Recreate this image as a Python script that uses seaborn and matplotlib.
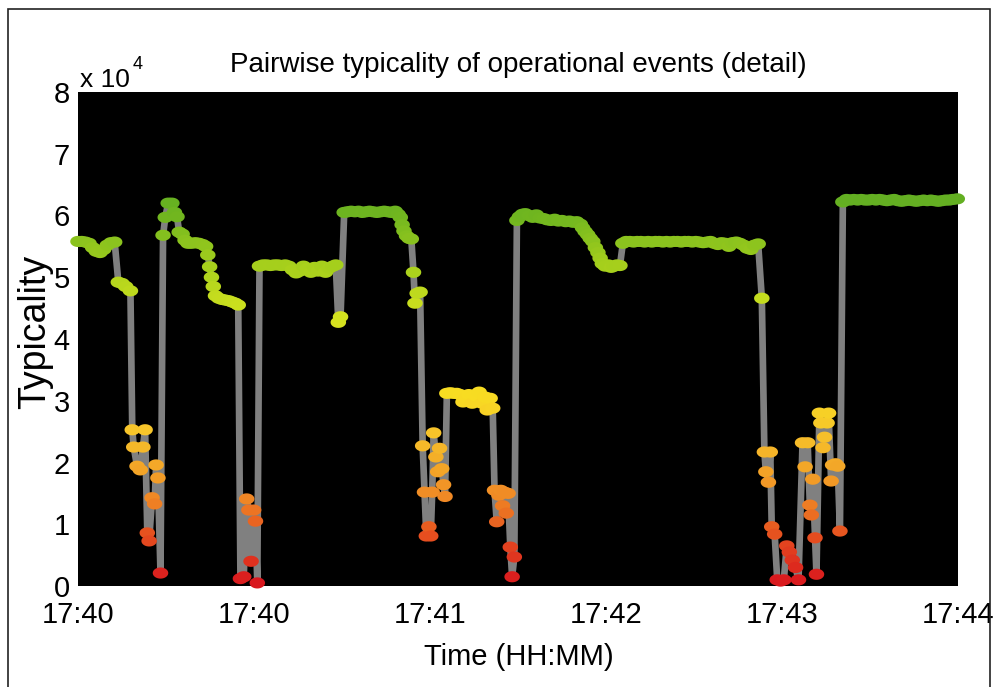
import numpy as np
import pandas as pd
import matplotlib
matplotlib.use("Agg")
import matplotlib.pyplot as plt
from matplotlib import font_manager
from matplotlib.colors import LinearSegmentedColormap
from matplotlib.markers import MarkerStyle
from matplotlib.patches import Rectangle
import seaborn as sns

# ---------------------------------------------------------------------------
# Typicality samples (units of 10^4), seconds after 17:40:00, by episode
# ---------------------------------------------------------------------------
# steady level, then first step down
t_a = [0, 1, 2, 3, 4, 5, 6, 7, 8, 9, 10, 11, 12, 13, 14.3]
v_a = [5.58, 5.58, 5.57, 5.55, 5.48, 5.42, 5.40, 5.45, 5.52, 5.56, 5.57,
       4.92, 4.90, 4.85, 4.78]

# first burst of atypical events
t_b = [14.8, 15.2, 16.1, 17.0, 17.7, 18.3, 18.9, 19.4, 20.2, 20.9, 21.3,
       21.8, 22.5]
v_b = [2.53, 2.25, 1.94, 1.88, 2.25, 2.53, 0.86, 0.73, 1.43, 1.33, 1.96,
       1.75, 0.21]

# recovery and slow decline
t_c = [23.2, 23.8, 24.6, 25.6, 26.3, 27.0, 27.6, 28.4, 29.2, 30.0, 31.0,
       32.0, 33.0, 34.0, 34.8, 35.4, 35.9, 36.4, 36.9, 37.5, 38.4, 39.3,
       40.2, 41.1, 42.0, 42.9, 43.7]
v_c = [5.68, 5.97, 6.20, 6.20, 6.05, 5.98, 5.73, 5.70, 5.60, 5.55, 5.55,
       5.56, 5.55, 5.53, 5.50, 5.36, 5.17, 5.00, 4.85, 4.70, 4.66, 4.64,
       4.63, 4.62, 4.60, 4.58, 4.55]

# second burst
t_d = [44.3, 45.2, 46.0, 46.6, 47.2, 47.9, 48.4, 48.9]
v_d = [0.12, 0.15, 1.41, 1.23, 0.40, 1.23, 1.05, 0.05]

# plateau near 5.2
t_e = [49.5, 50.5, 51.5, 52.5, 53.5, 54.5, 55.5, 56.5, 57.5, 58.5, 59.5,
       60.5, 61.5, 62.5, 63.5, 64.5, 65.5, 66.5, 67.5, 68.5, 69.5, 70.3,
       71.0, 71.6]
v_e = [5.18, 5.20, 5.20, 5.19, 5.20, 5.20, 5.19, 5.20, 5.18, 5.12, 5.07,
       5.10, 5.18, 5.14, 5.08, 5.16, 5.10, 5.18, 5.08, 5.15, 5.18, 5.20,
       4.27, 4.36]

# plateau near 6.1
t_f = [72.6, 73.5, 74.5, 75.5, 76.5, 77.5, 78.5, 79.5, 80.5, 81.5, 82.5,
       83.5, 84.5, 85.5, 86.5, 87.3, 87.9, 88.4, 88.9, 89.6, 90.3, 90.9,
       91.5, 91.9, 92.5, 93.3]
v_f = [6.05, 6.06, 6.07, 6.06, 6.07, 6.05, 6.06, 6.07, 6.06, 6.05, 6.06,
       6.07, 6.06, 6.05, 6.07, 6.02, 5.97, 5.85, 5.75, 5.67, 5.63, 5.62,
       5.08, 4.58, 4.74, 4.76]

# third burst
t_g = [94.0, 94.5, 95.0, 95.7, 96.2, 96.6, 97.0, 97.6, 98.1, 98.6, 99.2,
       99.7, 100.1]
v_g = [2.27, 1.52, 0.81, 0.96, 0.81, 1.52, 2.48, 2.09, 1.85, 2.23, 1.90,
       1.64, 1.45]

# short plateau near 3.1
t_h = [100.6, 101.5, 102.4, 103.3, 104.2, 105.0, 105.8, 106.6, 107.5,
       108.4, 109.4, 110.2, 111.0, 111.6, 112.4, 113.1]
v_h = [3.12, 3.13, 3.12, 3.12, 3.10, 2.98, 3.05, 3.10, 2.96, 3.08, 3.14,
       2.96, 3.06, 2.85, 3.04, 2.88]

# fourth burst
t_i = [113.6, 114.2, 114.8, 115.3, 115.8, 116.3, 116.8, 117.3, 117.9,
       118.4, 119.0]
v_i = [1.55, 1.04, 1.47, 1.55, 1.30, 1.52, 1.18, 1.50, 0.63, 0.15, 0.47]

# plateau near 5.95 easing down to 5.2
t_j = [119.7, 120.4, 121.2, 122.0, 123.0, 124.0, 125.0, 126.0, 127.0,
       128.0, 129.0, 130.0, 131.0, 132.0, 133.0, 134.0, 135.0, 136.0,
       137.0, 137.6, 138.3, 139.0, 139.7, 140.4, 141.1, 141.8, 142.4,
       143.0, 143.8, 144.6, 145.4, 146.2, 147.0, 147.8]
v_j = [5.92, 5.98, 6.02, 6.03, 6.00, 5.97, 6.01, 5.96, 5.95, 5.93, 5.92,
       5.94, 5.91, 5.92, 5.90, 5.91, 5.89, 5.90, 5.86, 5.80, 5.74, 5.69,
       5.63, 5.58, 5.48, 5.40, 5.31, 5.22, 5.18, 5.20, 5.16, 5.18, 5.20,
       5.19]

# long plateau near 5.57
t_k = [148.6, 149.5, 150.5, 151.5, 152.5, 153.5, 154.5, 155.5, 156.5,
       157.5, 158.5, 159.5, 160.5, 161.5, 162.5, 163.5, 164.5, 165.5,
       166.5, 167.5, 168.5, 169.5, 170.5, 171.5, 172.5, 173.5, 174.5,
       175.5, 176.5, 177.5, 178.5, 179.5, 180.5, 181.5, 182.5, 183.5,
       184.5, 185.5]
v_k = [5.55, 5.58, 5.58, 5.57, 5.58, 5.58, 5.57, 5.58, 5.57, 5.58, 5.58,
       5.57, 5.58, 5.57, 5.58, 5.58, 5.57, 5.58, 5.58, 5.57, 5.58, 5.57,
       5.56, 5.57, 5.58, 5.55, 5.53, 5.56, 5.55, 5.50, 5.56, 5.57, 5.55,
       5.52, 5.47, 5.45, 5.52, 5.54]

# fifth burst
t_l = [186.5, 187.2, 187.6, 188.3, 188.8, 189.2, 190.0, 190.7, 191.6,
       192.5, 193.3, 194.0, 194.8, 195.7, 196.5, 197.6, 198.3, 199.0,
       199.6, 200.0, 200.4, 201.0, 201.4, 202.2, 202.6, 203.2, 203.6,
       204.3, 204.7, 205.4, 205.8, 206.6, 207.2, 207.8]
v_l = [4.66, 2.17, 1.85, 1.68, 2.17, 0.96, 0.84, 0.10, 0.08, 0.10, 0.65,
       0.55, 0.42, 0.30, 0.10, 2.32, 1.93, 2.32, 1.31, 1.15, 1.73, 0.78,
       0.19, 2.80, 2.64, 2.24, 2.41, 2.64, 2.80, 1.70, 1.96, 1.98, 1.94,
       0.89]

# final plateau near 6.25
t_m = [208.6, 209.6, 210.6, 211.6, 212.6, 213.6, 214.6, 215.6, 216.6,
       217.6, 218.6, 219.6, 220.6, 221.6, 222.6, 223.6, 224.6, 225.6,
       226.6, 227.6, 228.6, 229.6, 230.6, 231.6, 232.6, 233.6, 234.6,
       235.6, 236.6, 237.6, 238.6, 239.8]
v_m = [6.22, 6.26, 6.25, 6.26, 6.25, 6.26, 6.25, 6.25, 6.26, 6.25, 6.26,
       6.25, 6.24, 6.25, 6.26, 6.24, 6.23, 6.24, 6.25, 6.24, 6.23, 6.24,
       6.25, 6.24, 6.25, 6.24, 6.23, 6.24, 6.25, 6.25, 6.26, 6.27]

time_labels = ["17:40", "17:40", "17:41", "17:42", "17:43", "17:44"]
title = "Pairwise typicality of operational events (detail)"

# ---------------------------------------------------------------------------
seconds = t_a + t_b + t_c + t_d + t_e + t_f + t_g + t_h + t_i + t_j + t_k + t_l + t_m
values = v_a + v_b + v_c + v_d + v_e + v_f + v_g + v_h + v_i + v_j + v_k + v_l + v_m
df = pd.DataFrame({"seconds": seconds, "typicality": values})

sns.set_theme(style="white")
names = {f.name for f in font_manager.fontManager.ttflist}
narrow = "Liberation Sans Narrow" in names
main_family = "Liberation Sans Narrow" if narrow else "Liberation Sans"
plt.rcParams["font.family"] = [main_family, "DejaVu Sans"]
fs = 24 if narrow else 20
tick_fs = 24 if narrow else 21

# red -> orange -> yellow -> green
cmap = LinearSegmentedColormap.from_list(
    "typ",
    [(0.00, "#d8141e"), (0.13, "#e6501f"), (0.23, "#f08a25"),
     (0.32, "#f4ac28"), (0.40, "#f7c52a"), (0.49, "#f8dc22"),
     (0.70, "#d2e21f"), (0.82, "#a8d01c"), (0.94, "#74b81f"),
     (1.00, "#62ae22")])

fig = plt.figure(figsize=(9.94, 6.87), dpi=100)
fig.patch.set_facecolor("white")
ax = fig.add_axes([78 / 994, 1 - 586 / 687, 880 / 994, 494 / 687])
ax.set_facecolor("black")

sns.lineplot(data=df, x="seconds", y="typicality", color="#808080",
             linewidth=4.8, estimator=None, sort=False, ax=ax, zorder=2)

theta = np.linspace(0, 2 * np.pi, 40)
ellipse = MarkerStyle(np.column_stack([np.cos(theta), 0.72 * np.sin(theta)]))
sns.scatterplot(data=df, x="seconds", y="typicality", hue="typicality",
                palette=cmap, hue_norm=(0, 6.3), s=125, marker=ellipse,
                linewidth=0, edgecolor="none", legend=False, ax=ax,
                zorder=3, clip_on=False)

ax.set_xlim(0, 240)
ax.set_ylim(0, 8)
ax.set_xticks(np.linspace(0, 240, len(time_labels)))
ax.set_xticklabels(time_labels)
ax.set_yticks(range(0, 9))
ax.tick_params(axis="both", length=0, labelsize=tick_fs, colors="black")
ax.tick_params(axis="x", pad=11)
ax.tick_params(axis="y", pad=6)
for sp in ax.spines.values():
    sp.set_visible(False)
ax.set_xlabel("")
ax.set_ylabel("")

fig.text(518 / 994, 1 - 72 / 687, title, ha="center", va="baseline",
         size=fs, color="black")
fig.text(80 / 994, 1 - 87 / 687, "x 10", ha="left", va="baseline",
         size=fs - 1, color="black")
fig.text(133 / 994, 1 - 69 / 687, "4", ha="left", va="baseline",
         size=fs - 7, color="black")
fig.text(519 / 994, 1 - 657 / 687, "Time (HH:MM)", ha="center",
         va="center", size=fs + 1, color="black")
fig.text(35 / 994, 1 - 332 / 687, "Typicality", rotation=90, ha="center",
         va="center", size=27, color="black",
         family=["Liberation Sans", "DejaVu Sans"])

fig.add_artist(Rectangle((8 / 994, -0.05), 982 / 994, 1 - 9 / 687 + 0.05,
                         transform=fig.transFigure, fill=False,
                         edgecolor="#222222", linewidth=1.2))

fig.savefig("out.png", dpi=100)
